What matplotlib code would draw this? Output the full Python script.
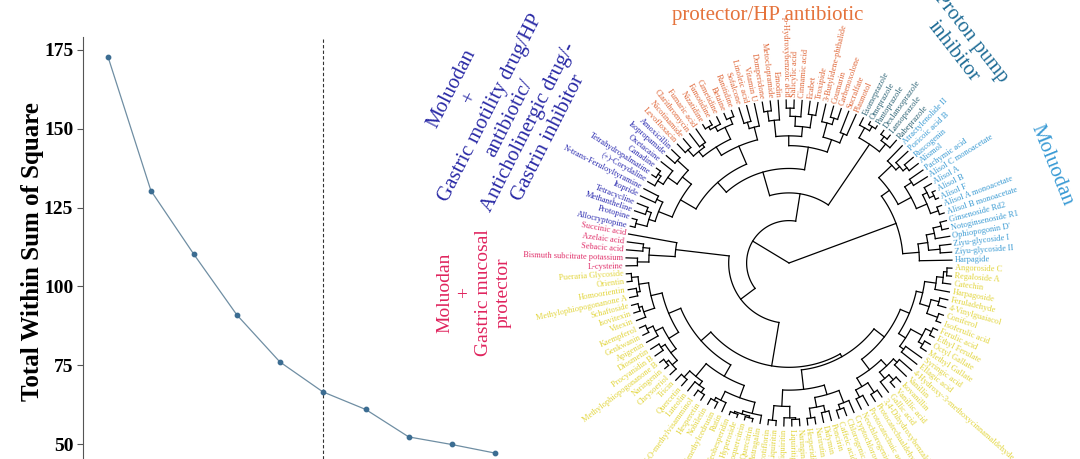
import re
import numpy as np
import matplotlib.pyplot as plt

plt.rcParams['font.family'] = ['Liberation Serif', 'DejaVu Serif']

# elbow curve
k_values = [1, 2, 3, 4, 5, 6, 7, 8, 9, 10]
wss = [172.9, 130.4, 110.2, 91.0, 76.1, 66.6, 61.0, 52.3, 49.9, 47.2]
best_k = 6
y_ticks = [50, 75, 100, 125, 150, 175]

# dendrogram leaves, in circular order
moluodan_blue = ["Harpagide", "Ziyu-glycoside II", "Ziyu-glycoside I", "Ophiopogonin D'",
                 "Notoginsenoside R1", "Ginsenoside Rd2", "Alisol B monoacetate",
                 "Alisol A monoacetate", "Alisol F", "Alisol B", "Alisol A",
                 "Alisol C monoacetate", "Pachymic acid", "Alismol", "Ruscogenin",
                 "Poricoic acid B", "Atractylenolide II"]
ppi = ["Rabeprazole", "Lansoprazole", "Dexlansoprazole", "Pantoprazole",
       "Omeprazole", "Esomeprazole"]
protector_hp = ["Plaunotol", "Sucralfate", "Carbenoxolone", "Coumarin",
                "3-Butylidene-phthalide", "Troxipide", "Ecabet", "Cinnamic acid",
                "Salicylic acid", "p-Hydroxybenzoic acid", "Emodin", "Metoclopramide",
                "Domperidone", "Vitamin U", "Linoleic acid", "Sofalcone", "Ranitidine",
                "Betaine", "Cimetidine", "Famotidine", "Nizatidine", "Fumaric acid",
                "Clarithromycin", "Nicotinamide", "Levofloxacin"]
motility = ["Amoxicillin", "Isopropamide", "Oxetacaine", "Canadine",
            "Tetrahydropalmatine", "(+)-Corydaline", "N-trans-Feruloyltyramine",
            "Itopride", "Tetracycline", "Methantheline", "Protopine", "Allocryptopine"]
mucosal = ["Succinic acid", "Azelaic acid", "Sebacic acid",
           "Bismuth subcitrate potassium", "L-cysteine"]
moluodan_yellow = ["Pueraria Glycoside", "Orientin", "Homoorientin",
                   "Methylophiopogonanone A", "Schaftoside", "Isovitexin", "Vitexin",
                   "Kaempferol", "Genkwanin", "Apigenin", "Diosmetin", "Procyanidin B",
                   "Methylophiopogonanone B", "Naringenin", "Chrysoeriol", "Tricin",
                   "Quercetin", "Luteolin", "5-O-methylvisamminol", "Hesperetin",
                   "Nobiletin", "3',4'-O-dimethylcedrusin", "Rutin", "Neohesperidin",
                   "Hyperoside", "Isoquercitrin", "Quercitrin", "Astragalin",
                   "Nicotiflorin", "Liquiritin", "Isoliquiritin", "Liquiritigenin",
                   "Naringin", "Hesperidin", "Narirutin", "Didymin", "Poncirin",
                   "Caffeic acid", "Chlorogenic acid", "Cryptochlorogenic acid",
                   "Neochlorogenic acid", "Protocatechuic acid", "Protocatechualdehyde",
                   "3,4-Dihydroxybenzaldehyde", "Gallic acid", "Vanillic acid",
                   "Isovanillin", "Vanillin", "4-Hydroxy-3-methoxycinnamaldehyde",
                   "Ellagic acid", "Syringic acid", "Methyl Gallate", "Octyl Gallate",
                   "Ethyl Ferulate", "Ferulic acid", "Isoferulic acid", "Coniferol",
                   "4-Vinylguaiacol", "Feruladehyde", "Harpagoside", "Catechin",
                   "Regaloside A", "Angoroside C"]

# tree topology: * = next leaf, number after ")" = merge radius (fraction of leaf radius)
b_down = "(*,((*,*)0.93,(*,(*,*)0.96)0.91)0.86)0.80"
b_up = "((((*,*)0.97,((*,*)0.98,*)0.95)0.92,(*,*)0.90)0.85,(((*,*)0.93,*)0.90,*)0.87)0.76"
t_ppi = "((*,(*,*)0.97)0.94,((*,*)0.98,*)0.95)0.88"
t_orange_r = "(((*,*)0.86,((*,*)0.93,*)0.89)0.80,(((*,*)0.92,(*,(*,*)0.95)0.90)0.84,(*,(*,*)0.94)0.88)0.78)0.72"
t_orange_l = "((*,(*,*)0.90)0.86,(((*,*)0.96,(*,(*,*)0.97)0.95)0.92,((*,*)0.90,(*,*)0.93)0.88)0.84)0.78"
t_motility = "(((*,*)0.93,(*,((*,*)0.97,*)0.95)0.91)0.84,((*,*)0.90,((*,*)0.93,(*,*)0.97)0.90)0.86)0.77"
t_mucosal = "(*,((*,*)0.90,(*,*)0.93)0.86)0.70"
yl_a = "(((*,*)0.97,(*,*)0.95)0.93,((*,*)0.96,*)0.94)0.87"
yl_b = "(((*,*)0.96,*)0.92,((*,*)0.94,((*,*)0.97,*)0.95)0.91)0.87"
yl_c = "(((*,*)0.95,(*,(*,*)0.96)0.93)0.90,(((*,*)0.96,*)0.94,(((*,*)0.98,(*,*)0.98)0.97,*)0.95)0.88)0.80"
yr_1 = "(((*,*)0.97,(*,(*,*)0.96)0.95)0.88,(((*,*)0.96,(*,*)0.94)0.90,((*,*)0.95,*)0.92)0.84)0.78"
yr_2a = "(((*,*)0.93,(*,*)0.95)0.88,((*,(*,*)0.96)0.92,(*,*)0.90)0.87)0.82"
yr_2b = "((*,*)0.88,((*,*)0.96,(*,*)0.97)0.93)0.85"
yr_2c = "(((*,*)0.97,(*,*)0.95)0.90,(*,(*,(*,*)0.97)0.95)0.91)0.84"

t_yellow = f"((({yl_a},{yl_b})0.80,{yl_c})0.72,({yr_1},({yr_2a},({yr_2b},{yr_2c})0.80)0.74)0.66)0.64"
t_a1 = f"({t_ppi},({t_orange_r},({t_orange_l},{t_motility})0.66)0.58)0.43"
t_a2 = f"({t_mucosal},{t_yellow})0.37"
tree = f"(({b_down},{b_up})0.70,({t_a1},{t_a2})0.26)0"

groups = [(moluodan_blue, '#3b9bd3'), (ppi, '#2f6577'), (protector_hp, '#e0683a'),
          (motility, '#2b2bb0'), (mucosal, '#e0306a'), (moluodan_yellow, '#e2d53c')]
labels = [n for g, c in groups for n in g]
label_colors = [c for g, c in groups for n in g]


def parse_tree(s):
    s = s.replace(' ', '')
    pos = 0
    count = 0

    def node():
        nonlocal pos, count
        if s[pos] == '*':
            pos += 1
            count += 1
            return {'leaf': count - 1}
        pos += 1
        kids = [node()]
        while s[pos] == ',':
            pos += 1
            kids.append(node())
        pos += 1
        m = re.match(r'[\d.]+', s[pos:])
        pos += m.end()
        return {'r': float(m.group()), 'kids': kids}

    return node()


root = parse_tree(tree)
n_leaves = len(labels)
step = 360.0 / n_leaves
theta0 = 1.0
leaf_nodes = []


def place(nd):
    if 'leaf' in nd:
        nd['a'] = theta0 + nd['leaf'] * step
        nd['rad'] = 1.0
        leaf_nodes.append(nd)
        return
    for k in nd['kids']:
        place(k)
    angs = [k['a'] for k in nd['kids']]
    nd['a'] = (min(angs) + max(angs)) / 2
    nd['rad'] = nd['r']


place(root)

fig = plt.figure(figsize=(10.8, 4.59), dpi=100)

# ---- elbow plot
ax = fig.add_axes([83 / 1080, 0, 431 / 1080, 422 / 459])
ax.plot(k_values, wss, color='#6f8ea3', lw=0.9, zorder=2)
ax.scatter(k_values, wss, s=10, color='#3c6d92', zorder=3)
ax.axvline(best_k, color='#333333', lw=0.8, ls=(0, (3, 2)))
ax.set_xlim(0.42, 10.45)
ax.set_ylim(45.3, 179.1)
ax.set_yticks(y_ticks)
ax.set_xticks([])
for sp in ['top', 'right', 'bottom']:
    ax.spines[sp].set_visible(False)
ax.spines['left'].set_color('#555555')
ax.tick_params(axis='y', length=4, width=0.8, color='#555555', pad=3, labelsize=14)
for t in ax.get_yticklabels():
    t.set_fontweight('bold')
ax.patch.set_alpha(0)
fig.text(33 / 1080, 1 - 252 / 459, 'Total Within Sum of Square', rotation=90,
         ha='center', va='center', fontsize=18, fontweight='bold')

# ---- circular dendrogram, drawn in pixel coordinates
ax2 = fig.add_axes([0, 0, 1, 1])
ax2.set_xlim(0, 1080)
ax2.set_ylim(459, 0)
ax2.axis('off')
cx, cy, R = 789, 263, 163


def draw(nd):
    if 'leaf' in nd:
        return
    angs = [k['a'] for k in nd['kids']]
    r = nd['r'] * R
    t = np.radians(np.linspace(min(angs), max(angs), 80))
    ax2.plot(cx + r * np.cos(t), cy - r * np.sin(t), color='black', lw=0.9)
    for k in nd['kids']:
        a = np.radians(k['a'])
        r2 = k['rad'] * R
        ax2.plot([cx + r * np.cos(a), cx + r2 * np.cos(a)],
                 [cy - r * np.sin(a), cy - r2 * np.sin(a)], color='black', lw=0.9)
        draw(k)


draw(root)

for nd in leaf_nodes:
    a = nd['a']
    rr = R + 3
    x = cx + rr * np.cos(np.radians(a))
    y = cy - rr * np.sin(np.radians(a))
    if np.cos(np.radians(a)) >= 0:
        rot, ha = (a + 180) % 360 - 180, 'left'
    else:
        rot, ha = a - 180, 'right'
    ax2.text(x, y, labels[nd['leaf']], rotation=rot, ha=ha, va='center',
             rotation_mode='anchor', fontsize=6, color=label_colors[nd['leaf']])

# group titles
ax2.text(500, 113, 'Moluodan\n+\nGastric motility drug/HP\nantibiotic/\nAnticholinergic drug/-\nGastrin inhibitor',
         rotation=63, ha='center', va='center', rotation_mode='anchor', multialignment='center',
         fontsize=15, color='#2b2ba6', linespacing=1.2)
ax2.text(474, 293, 'Moluodan\n+\nGastric mucosal\nprotector', rotation=90, ha='center',
         va='center', rotation_mode='anchor', multialignment='center', fontsize=14,
         color='#e0245e', linespacing=1.2)
ax2.text(768, 20, 'protector/HP antibiotic', ha='center', va='baseline', fontsize=15,
         color='#e5733c')
ax2.text(962, 45, 'Proton pump\ninhibitor', rotation=-52, ha='center', va='center',
         rotation_mode='anchor', multialignment='center', fontsize=15, color='#1f6c96',
         linespacing=1.2)
ax2.text(1052, 165, 'Moluodan', rotation=-68, ha='center', va='center',
         rotation_mode='anchor', fontsize=15, color='#3a9bd5')

fig.savefig('out.png', dpi=100)
